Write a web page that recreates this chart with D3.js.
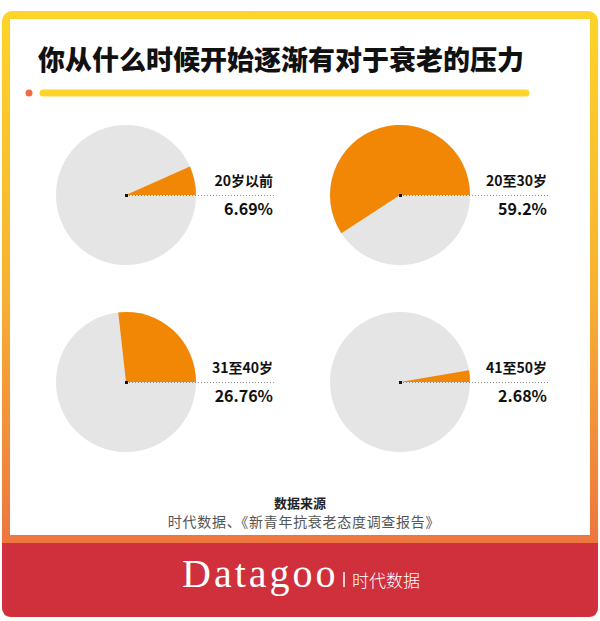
<!DOCTYPE html>
<html>
<head>
<meta charset="utf-8">
<script src="https://cdn.jsdelivr.net/npm/d3@7"></script>
<style>
    html, body { margin: 0; padding: 0; background: #fff; }
    svg { display: block; }
    text { font-family: "Noto Sans CJK SC", "Noto Sans", sans-serif; }
    text.brand { font-family: "Liberation Serif", "DejaVu Serif", serif; }
</style>
</head>
<body>
<svg width="600" height="621"></svg>
<script>
"use strict";

var title = "你从什么时候开始逐渐有对于衰老的压力";
var categories = ["20岁以前", "20至30岁", "31至40岁", "41至50岁"];
var shares = [6.69, 59.2, 26.76, 2.68];
var shareLabels = ["6.69%", "59.2%", "26.76%", "2.68%"];
var sourceTitle = "数据来源";
var sourceText = "时代数据、《新青年抗衰老态度调查报告》";
var brandLatin = "Datagoo";
var brandCjk = "时代数据";

var svg = d3.select("svg");
var width = 600;

var defs = svg.append("defs");
var grad = defs.append("linearGradient")
    .attr("id", "frame")
    .attr("x1", 0).attr("y1", 0).attr("x2", 0).attr("y2", 1);
grad.append("stop").attr("offset", "0%").attr("stop-color", "#fdd42a");
grad.append("stop").attr("offset", "45%").attr("stop-color", "#f8b232");
grad.append("stop").attr("offset", "100%").attr("stop-color", "#ea6544");

// frame
svg.append("rect")
    .attr("x", 2).attr("y", 11)
    .attr("width", 596).attr("height", 606)
    .attr("rx", 10)
    .attr("fill", "url(#frame)");
svg.append("rect")
    .attr("x", 10).attr("y", 19)
    .attr("width", 580).attr("height", 516)
    .attr("fill", "#fff");

// footer band
svg.append("path")
    .attr("d", "M2,543 H598 V607 Q598,617 588,617 H12 Q2,617 2,607 Z")
    .attr("fill", "#d02f3c");

// title
svg.append("text")
    .attr("x", 38).attr("y", 70)
    .attr("font-size", 27)
    .attr("font-weight", 900)
    .attr("fill", "#111")
    .text(title);

svg.append("line")
    .attr("x1", 43).attr("x2", 526)
    .attr("y1", 93).attr("y2", 93)
    .attr("stroke", "#fdd42a")
    .attr("stroke-width", 7)
    .attr("stroke-linecap", "round");
svg.append("circle")
    .attr("cx", 29).attr("cy", 93).attr("r", 3.5)
    .attr("fill", "#ef6a45");

// pies
var radius = 70;
var xPos = d3.scalePoint().domain([0, 1]).range([126, 400]);
var yPos = d3.scalePoint().domain([0, 1]).range([195, 382]);
var arc = d3.arc().innerRadius(0).outerRadius(radius);

categories.forEach(function (cat, i) {
    var cx = xPos(i % 2);
    var cy = yPos(Math.floor(i / 2));
    var g = svg.append("g")
        .attr("transform", "translate(" + cx + "," + cy + ")");
    var end = Math.PI / 2 - 2 * Math.PI * shares[i] / 100;

    g.append("circle").attr("r", radius).attr("fill", "#e5e5e5");
    g.append("path")
        .attr("d", arc({startAngle: end, endAngle: Math.PI / 2}))
        .attr("fill", "#f28705");

    g.append("line")
        .attr("x1", 0).attr("x2", 150)
        .attr("y1", 0.5).attr("y2", 0.5)
        .attr("stroke", "#8a8a8a")
        .attr("stroke-width", 1)
        .attr("stroke-dasharray", "1,2");
    g.append("rect")
        .attr("x", -1).attr("y", -1)
        .attr("width", 3).attr("height", 3)
        .attr("fill", "#111");

    g.append("text")
        .attr("x", 147).attr("y", -9)
        .attr("text-anchor", "end")
        .attr("font-size", 14)
        .attr("font-weight", 700)
        .attr("fill", "#111")
        .text(cat);
    g.append("text")
        .attr("x", 147).attr("y", 20)
        .attr("text-anchor", "end")
        .attr("font-size", 16)
        .attr("font-weight", 700)
        .attr("fill", "#111")
        .text(shareLabels[i]);
});

// source
svg.append("text")
    .attr("x", width / 2).attr("y", 508)
    .attr("text-anchor", "middle")
    .attr("font-size", 13)
    .attr("font-weight", 700)
    .attr("fill", "#222")
    .text(sourceTitle);
svg.append("text")
    .attr("x", width / 2 + 4).attr("y", 527)
    .attr("text-anchor", "middle")
    .attr("font-size", 14)
    .attr("letter-spacing", 0.7)
    .attr("fill", "#555")
    .text(sourceText);

// brand
svg.append("text")
    .attr("class", "brand")
    .attr("x", 182).attr("y", 587)
    .attr("font-size", 40)
    .attr("letter-spacing", 3)
    .attr("fill", "#fff")
    .text(brandLatin);
svg.append("line")
    .attr("x1", 344).attr("x2", 344)
    .attr("y1", 572).attr("y2", 587)
    .attr("stroke", "#fff")
    .attr("stroke-width", 1.5);
svg.append("text")
    .attr("x", 352).attr("y", 587)
    .attr("font-size", 17)
    .attr("font-weight", 300)
    .attr("fill", "#fff")
    .text(brandCjk);
</script>
</body>
</html>
